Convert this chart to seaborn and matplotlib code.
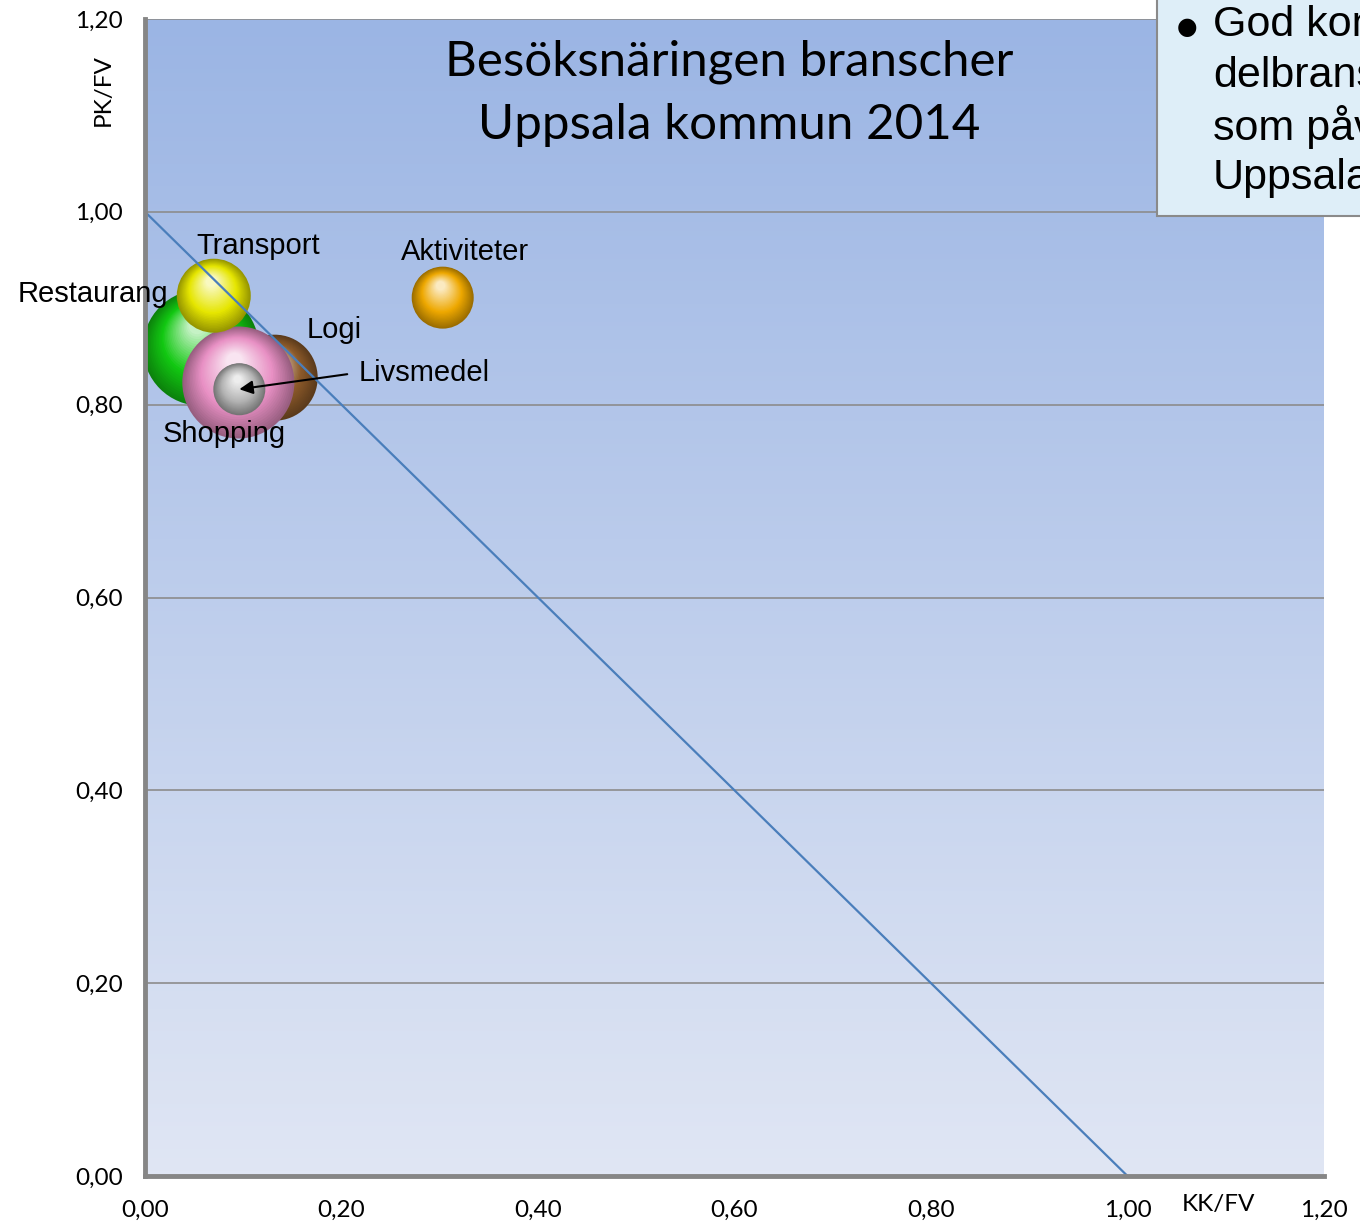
import numpy as np
import pandas as pd
import matplotlib
matplotlib.use("Agg")
import matplotlib.pyplot as plt
import matplotlib.transforms as mtransforms
from matplotlib.colors import to_rgb, LinearSegmentedColormap
from matplotlib.patches import Rectangle
import seaborn as sns

# Data
branscher = ["Restaurang", "Logi", "Shopping", "Transport", "Livsmedel", "Aktiviteter"]
kk_fv = [0.057, 0.132, 0.095, 0.070, 0.096, 0.303]
pk_fv = [0.859, 0.828, 0.823, 0.913, 0.816, 0.911]
storlek = [3364, 1849, 3136, 1369, 676, 961]
linje_x = [0.0, 1.0]
linje_y = [1.0, 0.0]
axel_ticks = [0.0, 0.2, 0.4, 0.6, 0.8, 1.0, 1.2]

df = pd.DataFrame({"bransch": branscher, "kk": kk_fv, "pk": pk_fv, "storlek": storlek})

farger = {
    "Restaurang": "#12C812",
    "Logi": "#8C5A2A",
    "Shopping": "#E890C4",
    "Transport": "#E6E600",
    "Livsmedel": "#B4B4B4",
    "Aktiviteter": "#EEA800",
}
# etikettplacering i punkter relativt bubblan
etiketter = {
    "Restaurang": (-78, 39),
    "Logi": (43, 34),
    "Shopping": (-10, -37),
    "Transport": (32, 36),
    "Aktiviteter": (16, 33),
}

sns.set_style("white")
plt.rcParams["font.family"] = ["Lato", "DejaVu Sans"]
plt.rcParams["text.color"] = "black"
plt.rcParams["xtick.labelcolor"] = "black"
plt.rcParams["ytick.labelcolor"] = "black"

fig = plt.figure(figsize=(13.6, 12.31), dpi=100)
ax = fig.add_axes([145 / 1360, 55 / 1231, 1179 / 1360, 1157 / 1231])

# bakgrund med gradient
cmap = LinearSegmentedColormap.from_list("bg", ["#E0E6F4", "#9BB5E4"])
ax.imshow(np.linspace(0, 1, 256).reshape(-1, 1), extent=[0, 1.2, 0, 1.2], origin="lower",
          aspect="auto", cmap=cmap, zorder=0)
ax.set_xlim(0, 1.2)
ax.set_ylim(0, 1.2)
ax.set_xticks(axel_ticks)
ax.set_yticks(axel_ticks)
fmt = lambda v, p: f"{v:.2f}".replace(".", ",")
ax.xaxis.set_major_formatter(fmt)
ax.yaxis.set_major_formatter(fmt)
ax.grid(axis="y", color="#8c8c8c", lw=1.2, zorder=1)
ax.grid(axis="x", visible=False)
for sida in ["top", "right"]:
    ax.spines[sida].set_visible(False)
for sida in ["left", "bottom"]:
    ax.spines[sida].set_color("#868686")
    ax.spines[sida].set_linewidth(3.5)
    ax.spines[sida].set_zorder(25)
ax.tick_params(direction="out", length=5, width=3, color="#868686", labelsize=17.5,
               labelcolor="black")
ax.tick_params(axis="y", pad=11)
ax.tick_params(axis="x", pad=12)


def blanda(a, b, t):
    a, b = np.array(to_rgb(a)), np.array(to_rgb(b))
    return tuple(a + (b - a) * t)


def kula(rad, z):
    s = rad.storlek * 2.0736
    r = np.sqrt(s) / 2
    bas = farger[rad.bransch]
    mork = blanda(bas, "black", 0.35)
    ljus = blanda(bas, "white", 0.8)
    sns.scatterplot(x=[rad.kk], y=[rad.pk], s=s, color=mork, edgecolor="none",
                    zorder=z, ax=ax, legend=False)
    n = 30
    for i in range(1, n):
        t = i / n
        f = 1 - 0.88 * t
        if t < 0.4:
            col = blanda(mork, bas, t / 0.4)
        else:
            col = blanda(bas, ljus, (t - 0.4) / 0.6)
        tr = mtransforms.offset_copy(ax.transData, fig=fig, x=-(1 - f) * r * 0.08,
                                     y=(1 - f) * r * 0.45, units="points")
        ax.scatter([rad.kk], [rad.pk], s=s * f * f, color=col, edgecolor="none",
                   zorder=z + i * 0.001, transform=tr)


ordning = ["Restaurang", "Logi", "Shopping", "Transport", "Livsmedel", "Aktiviteter"]
for k, namn in enumerate(ordning):
    kula(df[df.bransch == namn].iloc[0], 3 + k)

sns.lineplot(x=linje_x, y=linje_y, color="#4A7EBB", lw=1.6, ax=ax, zorder=20)

for _, rad in df.iterrows():
    if rad.bransch in etiketter:
        ax.annotate(rad.bransch, (rad.kk, rad.pk), xytext=etiketter[rad.bransch],
                    textcoords="offset points", ha="center", va="center", fontsize=21,
                    family=["Liberation Sans"], zorder=30)
liv = df[df.bransch == "Livsmedel"].iloc[0]
ax.annotate("Livsmedel", (liv.kk, liv.pk), xytext=(86, 12), textcoords="offset points",
            ha="left", va="center", fontsize=21, family=["Liberation Sans"], zorder=30,
            arrowprops=dict(arrowstyle="-|>", color="black", lw=1.5, mutation_scale=20,
                            shrinkA=6, shrinkB=0, relpos=(0, 0.5)))

# axeltitlar och rubrik
fig.text(103 / 1360, 1 - 90 / 1231, "PK/FV", rotation=90, ha="center", va="center", fontsize=17.5)
fig.text(1218 / 1360, 1 - 1205 / 1231, "KK/FV", ha="center", va="center", fontsize=17.5)
fig.text(729 / 1360, 1 - 62 / 1231, "Besöksnäringen branscher", ha="center", va="center",
         fontsize=35.5)
fig.text(729 / 1360, 1 - 125 / 1231, "Uppsala kommun 2014", ha="center", va="center",
         fontsize=35.5)

# textruta uppe till höger
fig.patches.append(Rectangle((1157 / 1360, 1 - 216 / 1231), 0.2, 0.2, transform=fig.transFigure,
                             facecolor="#DEEEF8", edgecolor="#8a8a8a", lw=1.5, zorder=40))
rader = ["God konkurrenskraft", "delbranscher", "som påverkar", "Uppsala"]
for i, txt in enumerate(rader):
    fig.text(1213 / 1360, 1 - (25 + 51 * i) / 1231, txt, ha="left", va="center",
             fontsize=31, family=["Liberation Sans"], zorder=41)
fig.text(1187 / 1360, 1 - 27 / 1231, "●", ha="center", va="center", fontsize=17,
         family=["DejaVu Sans"], zorder=41)

fig.savefig("out.png", dpi=100)
